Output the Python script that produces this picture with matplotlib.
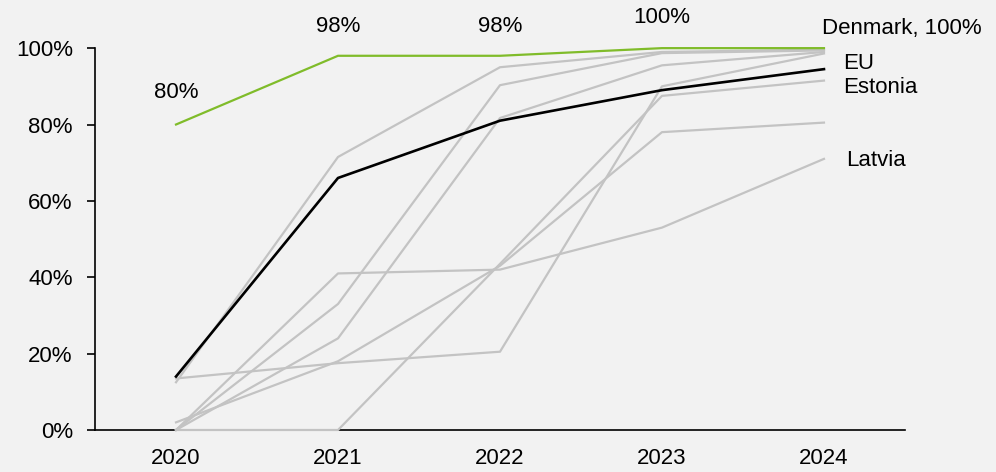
import matplotlib.pyplot as plt

years = [2020, 2021, 2022, 2023, 2024]

denmark = [80, 98, 98, 100, 100]
eu = [14, 66, 81, 89, 94.5]
estonia = [0, 0, 43.5, 87.5, 91.5]
latvia = [0, 41, 42, 53, 71]

# remaining member states, drawn in grey without labels
others = [
    [12.5, 71.5, 95, 99, 99.6],
    [0, 33, 90.3, 98.7, 99.4],
    [0, 24, 81.7, 95.5, 99],
    [13.5, 17.5, 20.5, 90, 98.6],
    [2, 18, 43, 78, 80.5],
]

grey = '#c3c3c3'
green = '#80bc2a'
bg = '#f2f2f2'
fs = 16

plt.rcParams['font.family'] = ['Liberation Sans', 'DejaVu Sans']

fig = plt.figure(figsize=(9.96, 4.72), dpi=100, facecolor=bg)
ax = fig.add_axes([0.0954, 0.089, 0.8132, 0.809], facecolor=bg)

x = list(range(len(years)))
for vals in others + [estonia, latvia]:
    ax.plot(x, vals, color=grey, lw=1.6, zorder=3, clip_on=False)
ax.plot(x, eu, color='black', lw=1.9, zorder=4, clip_on=False)
ax.plot(x, denmark, color=green, lw=1.6, zorder=5, clip_on=False)

# value labels above the Denmark line
offsets = [23, 21, 21, 22]
for i in range(4):
    ax.annotate(f'{denmark[i]:.0f}%', (x[i], denmark[i]), xytext=(0, offsets[i]),
                textcoords='offset points', ha='center', va='center',
                fontsize=fs, annotation_clip=False)

ax.annotate('Denmark, 100%', (x[-1], denmark[-1]), xytext=(-1.5, 14),
            textcoords='offset points', ha='left', va='center',
            fontsize=fs, annotation_clip=False)
ax.annotate('EU', (x[-1], eu[-1]), xytext=(14, 4), textcoords='offset points',
            ha='left', va='center', fontsize=fs, annotation_clip=False)
ax.annotate('Estonia', (x[-1], estonia[-1]), xytext=(14, -5), textcoords='offset points',
            ha='left', va='center', fontsize=fs, annotation_clip=False)
ax.annotate('Latvia', (x[-1], latvia[-1]), xytext=(16, -1), textcoords='offset points',
            ha='left', va='center', fontsize=fs, annotation_clip=False)

ax.set_xlim(-0.5, 4.5)
ax.set_ylim(0, 100)
ax.set_xticks(x)
ax.set_xticklabels([str(y) for y in years])
ax.set_yticks(range(0, 101, 20))
ax.set_yticklabels([f'{v}%' for v in range(0, 101, 20)])
ax.tick_params(axis='y', length=6, width=1.2, pad=10, labelsize=fs)
ax.tick_params(axis='x', length=0, pad=13, labelsize=fs)

for side in ['top', 'right']:
    ax.spines[side].set_visible(False)
for side in ['left', 'bottom']:
    ax.spines[side].set_linewidth(1.2)

fig.savefig('out.png', dpi=100, facecolor=bg)
